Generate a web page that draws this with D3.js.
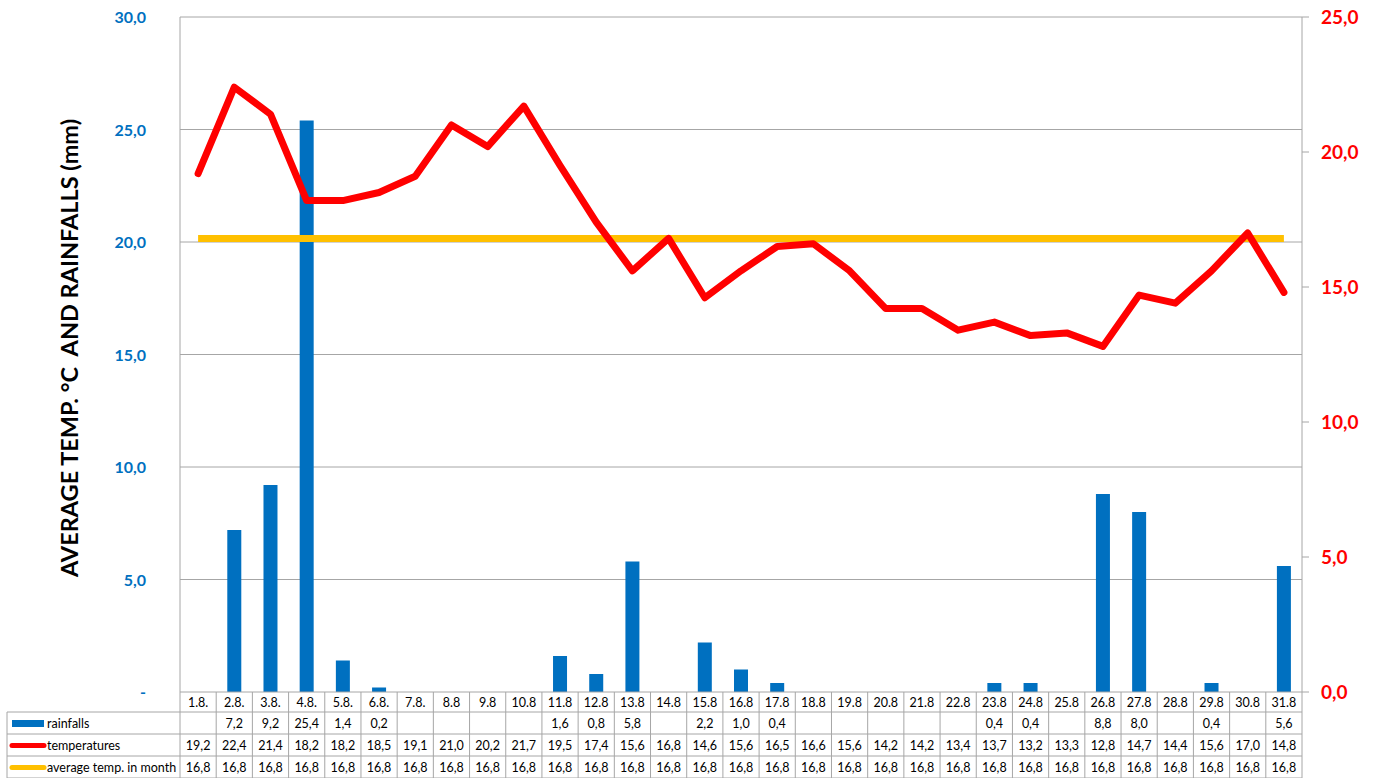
<!DOCTYPE html>
<html>
<head>
<meta charset="utf-8">
<script src="https://cdn.jsdelivr.net/npm/d3@7"></script>
<style>
    body { margin: 0; background: #fff; }
    svg text { font-family: Lato, "Open Sans", sans-serif; white-space: pre; }
</style>
</head>
<body>
<svg id="chart" width="1376" height="778"></svg>
<script>
    // Data
    const days = ['1.8.', '2.8.', '3.8.', '4.8.', '5.8.', '6.8.', '7.8.', '8.8', '9.8', '10.8',
        '11.8', '12.8', '13.8', '14.8', '15.8', '16.8', '17.8', '18.8', '19.8', '20.8',
        '21.8', '22.8', '23.8', '24.8', '25.8', '26.8', '27.8', '28.8', '29.8', '30.8', '31.8'];
    const rainfalls = [null, 7.2, 9.2, 25.4, 1.4, 0.2, null, null, null, null,
        1.6, 0.8, 5.8, null, 2.2, 1.0, 0.4, null, null, null,
        null, null, 0.4, 0.4, null, 8.8, 8.0, null, 0.4, null, 5.6];
    const temperatures = [19.2, 22.4, 21.4, 18.2, 18.2, 18.5, 19.1, 21.0, 20.2, 21.7,
        19.5, 17.4, 15.6, 16.8, 14.6, 15.6, 16.5, 16.6, 15.6, 14.2,
        14.2, 13.4, 13.7, 13.2, 13.3, 12.8, 14.7, 14.4, 15.6, 17.0, 14.8];
    const avgTemp = days.map(() => 16.8);
    const leftTicks = [0, 5, 10, 15, 20, 25, 30];
    const rightTicks = [0, 5, 10, 15, 20, 25];

    /**
     * Visual configs.
     */
    const plot = { left: 180, right: 1302, top: 17, bottom: 692 },
        tableLeft = 7,
        rowHeight = 22,
        blue = '#0070C0',
        red = '#FF0000',
        yellow = '#FFC000',
        gridColor = '#a6a6a6';

    const fmt = v => v == null ? '' : d3.format('.1f')(v).replace('.', ',');

    const svg = d3.select('#chart');

    const x = d3.scaleBand().domain(days).range([plot.left, plot.right]);
    const yLeft = d3.scaleLinear().domain([0, 30]).range([plot.bottom, plot.top]);
    const yRight = d3.scaleLinear().domain([0, 25]).range([plot.bottom, plot.top]);

    // Gridlines
    svg.append('g').selectAll('line').data(leftTicks.filter(d => d > 0)).join('line')
        .attr('x1', plot.left).attr('x2', plot.right)
        .attr('y1', d => yLeft(d)).attr('y2', d => yLeft(d))
        .attr('stroke', gridColor).attr('stroke-width', 1);

    // Left border
    svg.append('line')
        .attr('x1', plot.left).attr('x2', plot.left)
        .attr('y1', plot.top).attr('y2', plot.bottom)
        .attr('stroke', gridColor);

    // Left axis labels
    svg.append('g').selectAll('text').data(leftTicks).join('text')
        .attr('x', 146).attr('y', d => yLeft(d) + 6)
        .attr('text-anchor', 'end')
        .attr('fill', blue).attr('font-size', 16).attr('font-weight', 'bold')
        .text(d => d === 0 ? '-' : fmt(d));

    svg.append('text')
        .attr('transform', 'translate(78,' + 348 + ') rotate(-90)')
        .attr('text-anchor', 'middle')
        .attr('font-size', 23.5).attr('font-weight', 'bold').attr('fill', '#000')
        .text('AVERAGE TEMP. °C  AND RAINFALLS (mm)');

    // Right axis
    const rightAxis = svg.append('g');
    rightAxis.append('line')
        .attr('x1', plot.right).attr('x2', plot.right)
        .attr('y1', plot.top).attr('y2', plot.bottom + 88)
        .attr('stroke', gridColor);
    rightAxis.selectAll('.tick').data(rightTicks).join('line')
        .attr('x1', plot.right).attr('x2', plot.right + 7)
        .attr('y1', d => yRight(d)).attr('y2', d => yRight(d))
        .attr('stroke', gridColor);
    rightAxis.selectAll('text').data(rightTicks).join('text')
        .attr('x', 1321).attr('y', d => yRight(d) + 7)
        .attr('fill', red).attr('font-size', 19).attr('font-weight', 'bold')
        .text(fmt);

    // Bars
    const barWidth = 14;
    svg.append('g').selectAll('rect').data(days.map((d, i) => ({ day: d, v: rainfalls[i] })).filter(d => d.v != null))
        .join('rect')
        .attr('x', d => x(d.day) + x.bandwidth() / 2 - barWidth / 2)
        .attr('width', barWidth)
        .attr('y', d => yLeft(d.v))
        .attr('height', d => plot.bottom - yLeft(d.v))
        .attr('fill', blue);

    // Lines
    const cx = d => x(d) + x.bandwidth() / 2;
    const line = d3.line().x((d, i) => cx(days[i])).y(d => yRight(d));

    svg.append('path').datum(avgTemp)
        .attr('d', line)
        .attr('fill', 'none').attr('stroke', yellow).attr('stroke-width', 7);

    svg.append('path').datum(temperatures)
        .attr('d', line)
        .attr('fill', 'none').attr('stroke', red).attr('stroke-width', 7)
        .attr('stroke-linejoin', 'round').attr('stroke-linecap', 'round');

    // Data table
    const table = svg.append('g');
    const rows = [
        { label: 'rainfalls', values: rainfalls, color: blue, key: 'bar' },
        { label: 'temperatures', values: temperatures, color: red, key: 'line' },
        { label: 'average temp. in month', values: avgTemp, color: yellow, key: 'line' }
    ];
    const headerTop = plot.bottom,
        headerHeight = 20,
        bodyTop = headerTop + headerHeight,
        tableBottom = bodyTop + rowHeight * rows.length;

    // Horizontal borders
    table.append('line')
        .attr('x1', plot.left).attr('x2', plot.right)
        .attr('y1', headerTop).attr('y2', headerTop)
        .attr('stroke', gridColor);
    d3.range(rows.length + 1).forEach(i => {
        table.append('line')
            .attr('x1', tableLeft).attr('x2', plot.right)
            .attr('y1', bodyTop + i * rowHeight).attr('y2', bodyTop + i * rowHeight)
            .attr('stroke', gridColor);
    });
    // Vertical borders
    days.forEach(d => {
        table.append('line')
            .attr('x1', x(d)).attr('x2', x(d))
            .attr('y1', headerTop).attr('y2', tableBottom + 2)
            .attr('stroke', gridColor);
    });
    table.append('line')
        .attr('x1', tableLeft).attr('x2', tableLeft)
        .attr('y1', bodyTop).attr('y2', tableBottom + 2)
        .attr('stroke', gridColor);

    // Header labels
    table.selectAll('.day').data(days).join('text')
        .attr('class', 'day')
        .attr('x', d => cx(d)).attr('y', headerTop + 15)
        .attr('text-anchor', 'middle').attr('font-size', 12.5).attr('fill', '#000')
        .text(d => d);

    rows.forEach((r, ri) => {
        const ry = bodyTop + ri * rowHeight;
        // legend key
        if (r.key === 'bar') {
            table.append('rect')
                .attr('x', 12).attr('y', ry + 8).attr('width', 32).attr('height', 7)
                .attr('fill', r.color);
        } else {
            table.append('line')
                .attr('x1', 12).attr('x2', 44)
                .attr('y1', ry + 11.5).attr('y2', ry + 11.5)
                .attr('stroke', r.color).attr('stroke-width', 5).attr('stroke-linecap', 'round');
        }
        table.append('text')
            .attr('x', 47).attr('y', ry + 15.5)
            .attr('font-size', 12.5).attr('fill', '#000')
            .text(r.label);
        table.selectAll('.v' + ri).data(r.values).join('text')
            .attr('class', 'v' + ri)
            .attr('x', (d, i) => cx(days[i])).attr('y', ry + 16)
            .attr('text-anchor', 'middle').attr('font-size', 12.5).attr('fill', '#000')
            .text(fmt);
    });
</script>
</body>
</html>
